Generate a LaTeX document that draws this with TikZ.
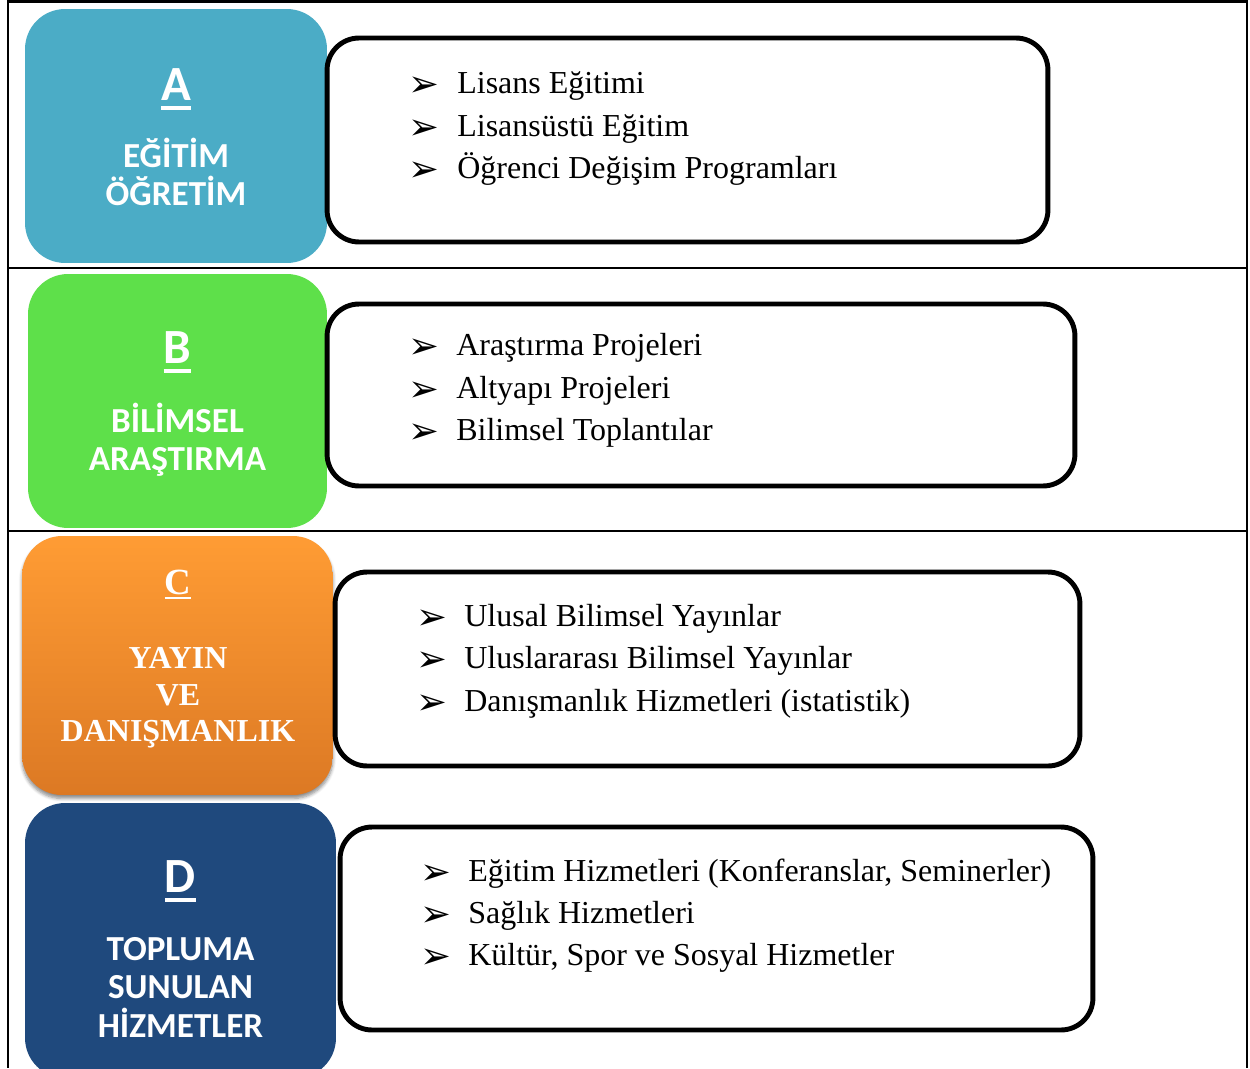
\documentclass[tikz,border=0pt]{standalone}
\usepackage{fontspec}
\setmainfont{Liberation Serif}
\newfontfamily\calibfont{Carlito}
\newfontfamily\dejafont{DejaVu Sans}
\usetikzlibrary{shadows.blur}
\definecolor{cA}{RGB}{75,172,198}
\definecolor{cB}{RGB}{94,224,74}
\definecolor{cCtop}{RGB}{255,156,52}
\definecolor{cCbot}{RGB}{220,121,36}
\definecolor{cD}{RGB}{31,73,125}
\newcommand\myul[3]{\setbox0\hbox{#1}\leavevmode\rlap{\rule[#2]{\wd0}{#3}}\box0}
\tikzset{
  framel/.style={line width=1.4pt},
  catbox/.style={rounded corners=0.8cm, inner sep=0pt},
  txtbox/.style={draw, line width=2.8pt, rounded corners=0.64cm, fill=white, inner sep=0pt},
  lettr/.style={anchor=base, inner sep=0pt, text=white, font=\calibfont\bfseries\fontsize{28}{30}\selectfont},
  ttl/.style={anchor=base, inner sep=0pt, text=white, font=\calibfont\bfseries\fontsize{20}{22}\selectfont},
  clettr/.style={anchor=base, inner sep=0pt, text=white, font=\rmfamily\bfseries\fontsize{21}{23}\selectfont},
  cttl/.style={anchor=base, inner sep=0pt, text=white, font=\rmfamily\bfseries\fontsize{18.2}{20}\selectfont},
  bul/.style={anchor=base west, inner sep=0pt, font=\dejafont\fontsize{21}{23}\selectfont},
  itm/.style={anchor=base west, inner sep=0pt, font=\rmfamily\fontsize{18.2}{20}\selectfont}
}
\begin{document}
\begin{tikzpicture}[x=0.02cm, y=-0.02cm]
\useasboundingbox (0,0) rectangle (1250,1068);
% frame
\draw[framel] (8,1.5) -- (1247,1.5);
\draw[framel] (8,0) -- (8,1068);
\draw[framel] (1247,0) -- (1247,1068);
\draw[framel] (8,268) -- (1247,268);
\draw[framel] (8,531) -- (1247,531);
% category boxes
\node[catbox, fill=cA, minimum width=6.04cm, minimum height=5.08cm] (boxA) at (176,136) {};
\node[catbox, fill=cB, minimum width=5.98cm, minimum height=5.08cm] (boxB) at (177.5,401) {};
\node[catbox, top color=cCtop, bottom color=cCbot, minimum width=6.22cm, minimum height=5.18cm,
  blur shadow={shadow xshift=0pt, shadow yshift=-2pt, shadow blur steps=6, shadow opacity=45}] (boxC) at (177.5,665.5) {};
\node[catbox, fill=cD, minimum width=6.22cm, minimum height=5.5cm] (boxD) at (180.5,940.5) {};
% category labels
\node[lettr] (lA) at (176,100) {\myul{A}{-5.7pt}{2.3pt}};
\node[ttl] (tA1) at (176,167) {EĞİTİM};
\node[ttl] (tA2) at (176,205) {ÖĞRETİM};
\node[lettr] (lB) at (177.5,363) {\myul{B}{-5.7pt}{2.3pt}};
\node[ttl] (tB1) at (177.5,432) {BİLİMSEL};
\node[ttl] (tB2) at (177.5,470) {ARAŞTIRMA};
\node[clettr] (lC) at (178,594) {\myul{C}{-3pt}{1.3pt}};
\node[cttl] (tC1) at (178,668) {YAYIN};
\node[cttl] (tC2) at (178,705) {VE};
\node[cttl] (tC3) at (178,741) {DANIŞMANLIK};
\node[lettr] (lD) at (180.5,892) {\myul{D}{-5.7pt}{2.3pt}};
\node[ttl] (tD1) at (180.5,960) {TOPLUMA};
\node[ttl] (tD2) at (180.5,998) {SUNULAN};
\node[ttl] (tD3) at (180.5,1037) {HİZMETLER};
% text boxes
\node[txtbox, minimum width=14.42cm, minimum height=4.08cm] (txA) at (687.5,140) {};
\node[txtbox, minimum width=14.96cm, minimum height=3.64cm] (txB) at (701,395) {};
\node[txtbox, minimum width=14.9cm, minimum height=3.88cm] (txC) at (707.5,669) {};
\node[txtbox, minimum width=15.06cm, minimum height=4.06cm] (txD) at (716.5,928.5) {};
% items A
\node[bul] (bA1) at (408,96) {➢};
\node[itm] (iA1) at (457,93) {Lisans Eğitimi};
\node[bul] (bA2) at (408,139) {➢};
\node[itm] (iA2) at (457,136) {Lisansüstü Eğitim};
\node[bul] (bA3) at (408,181) {➢};
\node[itm] (iA3) at (457,178) {Öğrenci Değişim Programları};
% items B
\node[bul] (bB1) at (408,358) {➢};
\node[itm] (iB1) at (456,355) {Araştırma Projeleri};
\node[bul] (bB2) at (408,401) {➢};
\node[itm] (iB2) at (456,398) {Altyapı Projeleri};
\node[bul] (bB3) at (408,443) {➢};
\node[itm] (iB3) at (456,440) {Bilimsel Toplantılar};
% items C
\node[bul] (bC1) at (416,629) {➢};
\node[itm] (iC1) at (464,626) {Ulusal Bilimsel Yayınlar};
\node[bul] (bC2) at (416,671) {➢};
\node[itm] (iC2) at (464,668) {Uluslararası Bilimsel Yayınlar};
\node[bul] (bC3) at (416,714) {➢};
\node[itm] (iC3) at (464,711) {Danışmanlık Hizmetleri (istatistik)};
% items D
\node[bul] (bD1) at (420,884) {➢};
\node[itm] (iD1) at (468,881) {Eğitim Hizmetleri (Konferanslar, Seminerler)};
\node[bul] (bD2) at (420,926) {➢};
\node[itm] (iD2) at (468,923) {Sağlık Hizmetleri};
\node[bul] (bD3) at (420,968) {➢};
\node[itm] (iD3) at (468,965) {Kültür, Spor ve Sosyal Hizmetler};
\end{tikzpicture}
\end{document}
